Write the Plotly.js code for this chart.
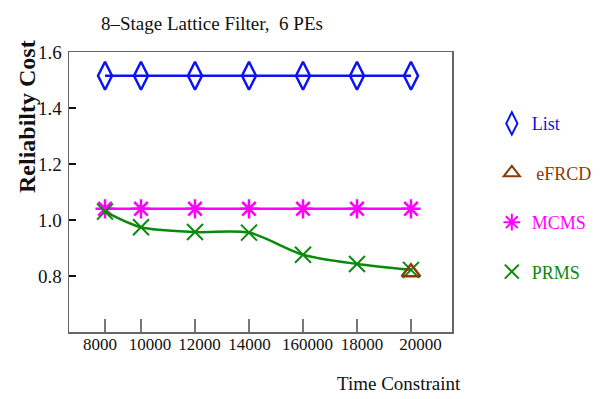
<!DOCTYPE html>
<html>
<head>
<meta charset="utf-8">
<script src="https://cdn.plot.ly/plotly-3.0.1.min.js"></script>
<style>html,body{margin:0;padding:0;background:#fff;}#chart{width:601px;height:399px;}</style>
</head>
<body>
<div id="chart"></div>
<script>
// Positions of the time-constraint points along the axis
const xPos = [8667, 10000, 12000, 14000, 16000, 18000, 20000];
// Where the tick labels sit (they are shifted a little from the ticks in the picture)
const labelPos = [8480, 10330, 12170, 14020, 16170, 18190, 20350];
const tickLabels = ["8000", "10000", "12000", "14000", "160000", "18000", "20000"];
const listCost = [1.515, 1.515, 1.515, 1.515, 1.515, 1.515, 1.515];
const mcmsCost = [1.04, 1.04, 1.04, 1.04, 1.04, 1.04, 1.04];
const prmsCost = [1.03, 0.974, 0.957, 0.955, 0.876, 0.843, 0.822];
const efrcdX = [20000];
const efrcdCost = [0.813];
const yTicks = [0.8, 1.0, 1.2, 1.4, 1.6];
const yTickLabels = ["0.8", "1.0", "1.2", "1.4", "1.6"];

const BLUE = '#0a14f0', MAG = '#ff00ff', GREEN = '#0a8a0a', BROWN = '#8b3a0a';
const SERIF = 'Liberation Serif, Times New Roman, serif';
const X_RANGE = [7333, 21519];

const traces = [
  {x: xPos, y: listCost, mode: 'lines+markers', showlegend: false,
   line: {color: BLUE, width: 2.5},
   marker: {symbol: 'diamond-tall-open', size: 20, color: BLUE, line: {width: 2.5, color: BLUE}}},
  {x: xPos, y: mcmsCost, mode: 'lines+markers', showlegend: false,
   line: {color: MAG, width: 2.5},
   marker: {symbol: 'asterisk-open', size: 16, color: MAG, line: {width: 2.5, color: MAG}}},
  {x: xPos, y: prmsCost, mode: 'lines+markers', showlegend: false,
   line: {color: GREEN, width: 2.5, shape: 'spline', smoothing: 0.8},
   marker: {symbol: 'x-thin-open', size: 16, color: GREEN, line: {width: 2, color: GREEN}}},
  {x: efrcdX, y: efrcdCost, xaxis: 'x2', mode: 'markers', showlegend: false,
   marker: {symbol: 'triangle-up-open', size: 16, color: BROWN, line: {width: 2.5, color: BROWN}}},
  // legend entries (marker only)
  {x: [null], y: [null], mode: 'markers', name: '<span style="color:' + BLUE + '">List</span>', legendgroup: 'a',
   marker: {symbol: 'diamond-tall-open', size: 16, color: BLUE, line: {width: 2, color: BLUE}}},
  {x: [null], y: [null], mode: 'markers', name: '<span style="color:' + BROWN + '"> eFRCD</span>', legendgroup: 'b',
   marker: {symbol: 'triangle-up-open', size: 14, color: BROWN, line: {width: 2, color: BROWN}}},
  {x: [null], y: [null], mode: 'markers', name: '<span style="color:' + MAG + '">MCMS</span>', legendgroup: 'c',
   marker: {symbol: 'asterisk-open', size: 14, color: MAG, line: {width: 2, color: MAG}}},
  {x: [null], y: [null], mode: 'markers', name: '<span style="color:' + GREEN + '">PRMS</span>', legendgroup: 'd',
   marker: {symbol: 'x-thin-open', size: 14, color: GREEN, line: {width: 2, color: GREEN}}}
];

const layout = {
  width: 601, height: 399,
  margin: {l: 69, r: 149, t: 52, b: 67, autoexpand: false},
  paper_bgcolor: '#fff', plot_bgcolor: '#fff',
  font: {family: SERIF, size: 18, color: '#111'},
  showlegend: true,
  legend: {x: 1.104, y: 0.81, xanchor: 'left', yanchor: 'top', tracegroupgap: 23,
           font: {family: SERIF, size: 18}, bgcolor: 'rgba(0,0,0,0)', itemwidth: 30},
  xaxis: {range: X_RANGE, tickvals: xPos, ticktext: tickLabels, showticklabels: false,
          ticks: 'inside', ticklen: 13, tickcolor: '#777', tickwidth: 1.5,
          showline: true, linecolor: '#666', linewidth: 1.5, mirror: true,
          showgrid: false, zeroline: false},
  xaxis2: {range: X_RANGE, overlaying: 'x', anchor: 'y', side: 'bottom',
           tickvals: labelPos, ticktext: tickLabels, tickangle: 0, ticks: '',
           showline: false, showgrid: false, zeroline: false,
           tickfont: {family: SERIF, size: 17}},
  yaxis: {range: [0.6, 1.6], tickvals: yTicks, ticktext: yTickLabels,
          ticks: 'inside', ticklen: 7, tickcolor: '#111', tickwidth: 1.5,
          showline: true, linecolor: '#666', linewidth: 1.5, mirror: true,
          showgrid: false, zeroline: false, tickfont: {family: SERIF, size: 19},
          ticklabelstandoff: 2},
  annotations: [
    {text: '8\u2013Stage Lattice Filter,  6 PEs', xref: 'paper', yref: 'paper',
     x: (99 - 69) / 383, y: 1.1, xanchor: 'left', yanchor: 'middle', showarrow: false,
     font: {family: SERIF, size: 19, color: '#111'}},
    {text: '<b>Reliabilty Cost</b>', xref: 'paper', yref: 'paper',
     x: (27 - 69) / 383, y: (332 - 117) / 280, xanchor: 'center', yanchor: 'middle', textangle: -90,
     showarrow: false, font: {family: SERIF, size: 24, color: '#111'}},
    {text: 'Time Constraint', xref: 'paper', yref: 'paper',
     x: (463 - 69) / 383, y: -(383 - 332) / 280, xanchor: 'right', yanchor: 'middle',
     showarrow: false, font: {family: SERIF, size: 19, color: '#111'}}
  ]
};

Plotly.newPlot('chart', traces, layout, {staticPlot: true, displayModeBar: false});
</script>
</body>
</html>
